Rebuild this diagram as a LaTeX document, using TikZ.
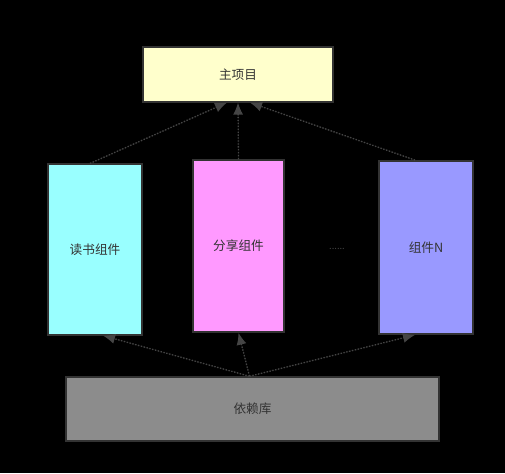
\documentclass[tikz,border=0pt]{standalone}
\usepackage{fontspec}
\setmainfont{Noto Sans CJK SC}
\usetikzlibrary{arrows.meta,calc}
\definecolor{boxline}{HTML}{333333}
\definecolor{linkgray}{HTML}{454545}
\begin{document}
\begin{tikzpicture}[x=0.75pt,y=-0.75pt,>={Latex[length=9pt,width=7.5pt]},
	every node/.style={font=\fontsize{9.5}{11}\selectfont,text=boxline},
	box/.style={draw=boxline,line width=1.1pt,inner sep=0pt},
	link/.style={->,draw=linkgray,fill=linkgray,line width=1pt,dash pattern=on 1pt off 1.2pt}]
	
	\fill[black] (0,0) rectangle (505,473);
	
	\node[box,fill={rgb,255:red,255;green,255;blue,204},minimum width=142.5pt,minimum height=41pt](main) at (238,74.5) {主项目};
	\node[box,fill={rgb,255:red,153;green,255;blue,255},minimum width=70.5pt,minimum height=128pt](read) at (95,249.5) {读书组件};
	\node[box,fill={rgb,255:red,255;green,153;blue,255},minimum width=68pt,minimum height=129pt](share) at (238.5,246) {分享组件};
	\node[box,fill={rgb,255:red,153;green,153;blue,255},minimum width=70.5pt,minimum height=130pt](compn) at (426,247.5) {组件N};
	\node[box,fill={rgb,255:red,140;green,140;blue,140},minimum width=280pt,minimum height=48pt](lib) at (252.5,409) {依赖库};
	\node[text=linkgray,font=\scriptsize](dots) at (337,249) {......};
	
	\coordinate (m1) at ($(main.south)+(-11,0)$);
	\coordinate (m3) at ($(main.south)+(12,0)$);
	\coordinate (l0) at ($(lib.north)+(-3,0)$);
	
	\draw[link] ($(read.north)+(-5,0)$) -- (m1);
	\draw[link] (share.north) -- (main.south);
	\draw[link] ($(compn.north)+(-11,0)$) -- (m3);
	
	\draw[link] (l0) -- ($(read.south)+(8,0)$);
	\draw[link] (l0) -- (share.south);
	\draw[link] (l0) -- ($(compn.south)+(-11,0)$);
	
\end{tikzpicture}
\end{document}
